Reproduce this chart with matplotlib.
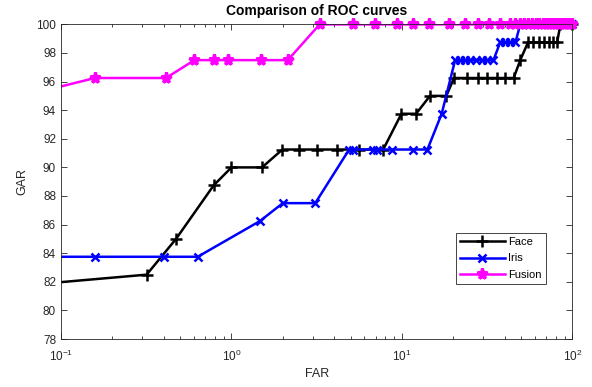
import matplotlib
matplotlib.use("Agg")
import matplotlib.pyplot as plt
import numpy as np

# Face ROC points (FAR %, GAR %)
far_face = [0.02, 0.318, 0.473, 0.787, 1.0, 1.51, 1.99, 2.49, 3.19, 4.16, 5.58, 7.76,
            9.93, 12.1, 14.6, 18.2, 20.2, 24.0, 27.9, 31.7, 36.1, 40.4, 45.2, 49.4,
            54.9, 59.0, 63.5, 68.0, 72.5, 77.0, 81.3, 85.0, 100.0]
gar_face = [81.25, 82.5, 85.0, 88.75, 90.0, 90.0, 91.25, 91.25, 91.25, 91.25, 91.25, 91.25,
            93.75, 93.75, 95.0, 95.0, 96.25, 96.25, 96.25, 96.25, 96.25, 96.25, 96.25, 97.5,
            98.75, 98.75, 98.75, 98.75, 98.75, 98.75, 98.75, 100.0, 100.0]

# Iris ROC points
far_iris = [0.05, 0.158, 0.404, 0.634, 1.47, 2.0, 3.1, 4.9, 5.17, 6.77, 7.09, 8.77,
            11.6, 14.1, 17.1, 20.5, 21.9, 23.5, 25.1, 27.2, 29.4, 31.7, 34.4, 37.7,
            40.4, 43.2, 46.3, 49.4, 55.0, 65.0, 75.0, 85.0, 100.0]
gar_iris = [83.75, 83.75, 83.75, 83.75, 86.25, 87.5, 87.5, 91.25, 91.25, 91.25, 91.25, 91.25,
            91.25, 91.25, 93.75, 97.5, 97.5, 97.5, 97.5, 97.5, 97.5, 97.5, 97.5, 98.75,
            98.75, 98.75, 98.75, 100.0, 100.0, 100.0, 100.0, 100.0, 100.0]

# Fusion ROC points
far_fusion = [0.06, 0.158, 0.413, 0.606, 0.794, 0.96, 1.50, 2.14, 3.29, 5.17, 6.94, 9.3,
              11.6, 14.5, 18.9, 23.3, 27.9, 32.6, 37.4, 43.2, 46, 49, 52, 55, 58, 61, 64,
              67, 70, 73, 76, 79, 82, 85, 88, 91, 94, 97, 100]
gar_fusion = [95.0, 96.25, 96.25, 97.5, 97.5, 97.5, 97.5, 97.5] + [100.0] * 31

plt.rcParams["font.family"] = ["Liberation Sans", "DejaVu Sans"]
ax_col = "#262626"

fig = plt.figure(figsize=(5.92, 3.87), dpi=100)
ax = fig.add_axes([0.103, 0.124, 0.864, 0.813])

series = [
    (far_face, gar_face, "black", "+", 9, 1.8, "Face"),
    (far_iris, gar_iris, "blue", "x", 6, 1.8, "Iris"),
    (far_fusion, gar_fusion, "magenta", "*", 8, 2.2, "Fusion"),
]
for far, gar, col, mk, ms, mew, name in series:
    far = np.array(far)
    gar = np.array(gar)
    ax.plot(far, gar, color=col, lw=1.8, marker=mk, ms=ms, mew=mew, label=name,
            markevery=[i for i in range(len(far)) if far[i] >= 0.1 and gar[i] < 100])
    # markers sitting on the top edge are drawn unclipped, like the original
    top = (far >= 0.1) & (gar >= 100)
    ax.plot(far[top], gar[top], ls="none", color=col, marker=mk, ms=ms, mew=mew,
            clip_on=False)

ax.set_xscale("log")
ax.set_xlim(0.1, 100)
ax.set_ylim(78, 100)
ax.set_yticks(range(78, 101, 2))
ax.tick_params(which="both", direction="in", top=True, right=True, colors=ax_col,
               labelsize=8.5)
ax.tick_params(which="major", length=4, width=0.6)
ax.tick_params(which="minor", length=2.5, width=0.6)
ax.tick_params(axis="x", which="major", pad=7)
for s in ax.spines.values():
    s.set_color(ax_col)
    s.set_linewidth(0.6)

ax.set_xlabel("FAR", fontsize=9, color=ax_col, labelpad=3)
ax.set_ylabel("GAR", fontsize=9, color=ax_col, labelpad=6)
ax.set_title("Comparison of ROC curves", fontsize=10, fontweight="bold", pad=7)

leg = ax.legend(loc="lower right", bbox_to_anchor=(0.948, 0.175), fontsize=8,
                fancybox=False, framealpha=1, edgecolor=ax_col, handlelength=4.0,
                borderpad=0.4, labelspacing=0.55, handletextpad=0.3, borderaxespad=0)
leg.get_frame().set_linewidth(0.6)

fig.savefig("out.png", dpi=100)
